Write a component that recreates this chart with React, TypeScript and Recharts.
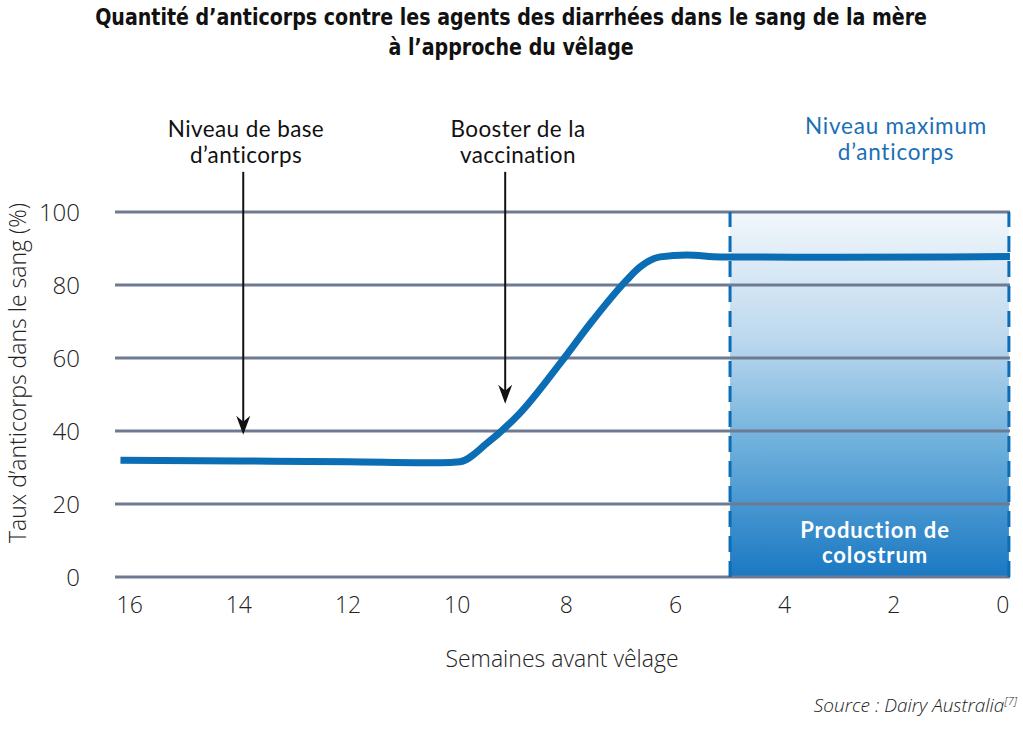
import React from 'react';
import {
  LineChart,
  Line,
  XAxis,
  YAxis,
  ReferenceArea,
  ReferenceLine,
} from 'recharts';

// weeks before calving
const weeks = [16.17, 14, 12, 10.3, 9.95, 9.45, 8.85, 8.11, 7.51, 6.89, 6.65, 6.28, 5.79, 5.18, 3, 1, -0.13];
// antibody level in blood (%)
const levels = [32, 31.8, 31.6, 31.3, 31.6, 36.7, 44.9, 58.6, 70.4, 81.4, 84.9, 87.7, 88.2, 87.7, 87.6, 87.7, 87.8];

const xTicks = [16, 14, 12, 10, 8, 6, 4, 2, 0];
const yTicks = [0, 20, 40, 60, 80, 100];

const colostrumStart = 5.0;
const colostrumEnd = -0.11;

const baseArrow = { week: 13.92, from: 111, to: 39 };
const boosterArrow = { week: 9.12, from: 111, to: 47.5 };

const data = weeks.map((w, i) => ({ week: w, level: levels[i] }));

const FONT = "'Open Sans', 'Noto Sans', sans-serif";
const NOTE_FONT = "Lato, 'Open Sans', sans-serif";

const Arrow = (props: any) => {
  const { x1, y1, x2, y2 } = props;
  const tipY = Math.max(y1, y2);
  const topY = Math.min(y1, y2);
  const x = x1;
  return (
    <g>
      <line x1={x} y1={topY} x2={x} y2={tipY - 10} stroke="#111" strokeWidth={2} />
      <polygon
        points={`${x},${tipY} ${x - 7},${tipY - 19} ${x},${tipY - 13} ${x + 7},${tipY - 19}`}
        fill="#111"
      />
    </g>
  );
};

const txt = (style: React.CSSProperties): React.CSSProperties => ({
  position: 'absolute',
  fontFamily: FONT,
  whiteSpace: 'nowrap',
  lineHeight: 1.15,
  textAlign: 'center',
  ...style,
});

const note: React.CSSProperties = {
  fontSize: 22.5,
  lineHeight: '26px',
  letterSpacing: 0.4,
  fontFamily: NOTE_FONT,
};

export default function App() {
  return (
    <div style={{ position: 'absolute', left: 0, top: 0, width: 1023, height: 737, background: '#fff' }}>
      <div
        style={txt({
          left: 0,
          width: 1023,
          top: 2,
          fontFamily: "'DejaVu Sans', sans-serif",
          fontStretch: 'condensed',
          fontWeight: 700,
          fontSize: 23,
          lineHeight: '30px',
          color: '#111',
        })}
      >
        <span style={{ display: 'inline-block', transform: 'scaleX(0.92)' }}>
          Quantité d’anticorps contre les agents des diarrhées dans le sang de la mère
          <br />à l’approche du vêlage
        </span>
      </div>

      <LineChart
        width={1023}
        height={737}
        data={data}
        margin={{ top: 212, right: 13, bottom: 120, left: 55 }}
      >
        <defs>
          <linearGradient id="colo" x1="0" y1="0" x2="0" y2="1">
            <stop offset="0%" stopColor="#f2f7fc" />
            <stop offset="35%" stopColor="#bcd8ee" />
            <stop offset="65%" stopColor="#6aaedb" />
            <stop offset="100%" stopColor="#1a78c2" />
          </linearGradient>
        </defs>
        <XAxis
          dataKey="week"
          type="number"
          domain={[-0.13, 16.27]}
          reversed
          allowDataOverflow
          ticks={xTicks}
          axisLine={false}
          tickLine={false}
          tickMargin={14}
          height={40}
          tick={{ fill: '#222', fontSize: 23, fontFamily: FONT, fontWeight: 300 }}
        />
        <YAxis
          type="number"
          domain={[0, 100]}
          ticks={yTicks}
          axisLine={false}
          tickLine={false}
          width={60}
          tickMargin={29}
          tick={{ fill: '#222', fontSize: 24, fontFamily: FONT, fontWeight: 300 }}
        />
        <ReferenceArea
          x1={colostrumStart}
          x2={colostrumEnd}
          y1={0}
          y2={100}
          fill="url(#colo)"
          fillOpacity={1}
          stroke="none"
        />
        {yTicks.map((t) => (
          <ReferenceLine key={t} y={t} stroke="#6e7a92" strokeWidth={3} />
        ))}
        <ReferenceLine x={colostrumStart} stroke="#0b6db5" strokeWidth={3} strokeDasharray="16 9" />
        <ReferenceLine x={colostrumEnd} stroke="#0b6db5" strokeWidth={3} strokeDasharray="16 9" />
        <ReferenceLine
          segment={[
            { x: baseArrow.week, y: baseArrow.from },
            { x: baseArrow.week, y: baseArrow.to },
          ]}
          ifOverflow="visible"
          shape={Arrow}
        />
        <ReferenceLine
          segment={[
            { x: boosterArrow.week, y: boosterArrow.from },
            { x: boosterArrow.week, y: boosterArrow.to },
          ]}
          ifOverflow="visible"
          shape={Arrow}
        />
        <Line
          type="monotone"
          dataKey="level"
          stroke="#0b6db3"
          strokeWidth={7}
          dot={false}
          isAnimationActive={false}
        />
      </LineChart>

      <div style={txt({ left: 146, width: 200, top: 116, color: '#111', ...note })}>
        Niveau de base
        <br />
        d’anticorps
      </div>
      <div style={txt({ left: 418, width: 200, top: 116, color: '#111', ...note })}>
        Booster de la
        <br />
        vaccination
      </div>
      <div style={txt({ left: 776, width: 240, top: 113, color: '#1a6fb5', ...note, letterSpacing: 0.8 })}>
        Niveau maximum
        <br />
        d’anticorps
      </div>
      <div
        style={txt({
          left: 765,
          width: 220,
          top: 517,
          fontSize: 22,
          letterSpacing: 0.9,
          fontWeight: 700,
          fontFamily: NOTE_FONT,
          color: '#fff',
          lineHeight: '25px',
        })}
      >
        Production de
        <br />
        colostrum
      </div>
      <div style={txt({ left: 362, width: 400, top: 645, fontSize: 23, color: '#222', fontWeight: 300 })}>
        Semaines avant vêlage
      </div>
      <div
        style={txt({
          left: 17,
          top: 373,
          width: 400,
          fontSize: 23,
          color: '#222',
          fontWeight: 300,
          transform: 'translate(-50%, -50%) rotate(-90deg)',
        })}
      >
        Taux d’anticorps dans le sang (%)
      </div>
      <div
        style={txt({
          right: 6,
          top: 695,
          fontSize: 19,
          color: '#222',
          fontStyle: 'italic',
          fontWeight: 300,
          textAlign: 'right',
        })}
      >
        Source : Dairy Australia<sup style={{ fontSize: 11 }}>[7]</sup>
      </div>
    </div>
  );
}
